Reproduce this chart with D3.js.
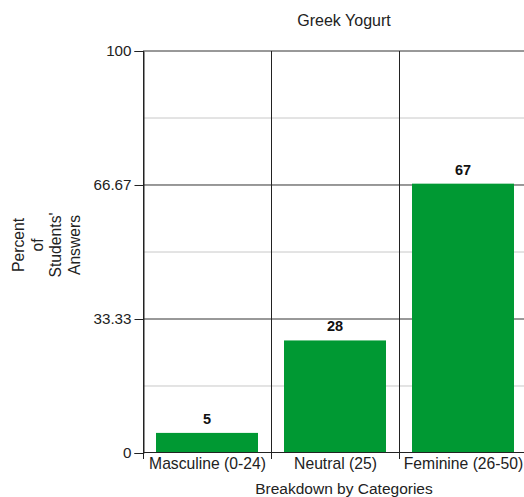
<!DOCTYPE html>
<html>
<head>
<meta charset="utf-8">
<script src="https://cdn.jsdelivr.net/npm/d3@7"></script>
<style>
  html, body { margin: 0; padding: 0; background: #fff; }
  svg { display: block; font-family: "Liberation Sans", Arial, sans-serif; }
</style>
</head>
<body>
<svg id="chart" width="524" height="497"></svg>
<script>
// Share of students' answers per category
const categories = ["Masculine (0-24)", "Neutral (25)", "Feminine (26-50)"];
const values = [5, 28, 67];
const majorTicks = [0, 33.33, 66.67, 100];
const majorTickLabels = ["0", "33.33", "66.67", "100"];
const minorTicks = [16.67, 50, 83.33];

const svg = d3.select("#chart");
const margin = { left: 143, top: 51, right: -3, bottom: 45 };
const W = 524, H = 497;
const x0 = margin.left, x1 = W - margin.right;
const y0 = H - margin.bottom, y1 = margin.top;

const x = d3.scaleBand().domain(categories).range([x0, x1]).paddingInner(0).paddingOuter(0);
const y = d3.scaleLinear().domain([0, 100]).range([y0 + 1, y1]);

// light minor gridlines
svg.append("g").selectAll("line").data(minorTicks).join("line")
  .attr("x1", x0).attr("x2", x1)
  .attr("y1", d => y(d)).attr("y2", d => y(d))
  .attr("stroke", "#c8c8c8").attr("stroke-width", 1);

// major gridlines
svg.append("g").selectAll("line").data(majorTicks.slice(1)).join("line")
  .attr("x1", x0).attr("x2", x1)
  .attr("y1", d => y(d)).attr("y2", d => y(d))
  .attr("stroke", "#333").attr("stroke-width", 1);

// vertical separators between categories
svg.append("g").selectAll("line").data(categories).join("line")
  .attr("x1", d => x(d) + 0.5).attr("x2", d => x(d) + 0.5)
  .attr("y1", y1).attr("y2", y0 + 7)
  .attr("stroke", "#222").attr("stroke-width", 1);

// bars
const pad = 13;
svg.append("g").selectAll("rect").data(values).join("rect")
  .attr("x", (d, i) => x(categories[i]) + pad)
  .attr("width", x.bandwidth() - 2 * pad)
  .attr("y", d => y(d))
  .attr("height", d => y(0) - y(d))
  .attr("fill", "#009933");

// value labels
svg.append("g").selectAll("text").data(values).join("text")
  .attr("x", (d, i) => x(categories[i]) + x.bandwidth() / 2)
  .attr("y", d => y(d) - 9)
  .attr("text-anchor", "middle")
  .attr("font-size", 14.5).attr("font-weight", "bold").attr("fill", "#111")
  .text(d => d);

// y axis
const yAxis = d3.axisLeft(y).tickValues(majorTicks)
  .tickFormat((d, i) => majorTickLabels[i]).tickSize(9).tickPadding(3);
const gy = svg.append("g").attr("transform", `translate(${x0 + 0.5},0)`).call(yAxis);
gy.select(".domain").attr("stroke", "#222");
gy.selectAll(".tick line").attr("stroke", "#222");
gy.selectAll(".tick text").attr("font-size", 15.2).attr("fill", "#222")
  .attr("font-family", "Liberation Sans, Arial, sans-serif");

// x axis baseline and labels
svg.append("line").attr("x1", x0).attr("x2", x1)
  .attr("y1", y0 + 0.5).attr("y2", y0 + 0.5).attr("stroke", "#222");
svg.append("g").selectAll("text").data(categories).join("text")
  .attr("x", d => x(d) + x.bandwidth() / 2 + 0.5)
  .attr("y", y0 + 17)
  .attr("text-anchor", "middle")
  .attr("font-size", 15.7).attr("fill", "#222")
  .text(d => d);

// titles
svg.append("text").attr("x", 344).attr("y", 26)
  .attr("text-anchor", "middle").attr("font-size", 16).attr("fill", "#222")
  .text("Greek Yogurt");
svg.append("text").attr("x", 344).attr("y", 494)
  .attr("text-anchor", "middle").attr("font-size", 15.5).attr("fill", "#222")
  .text("Breakdown by Categories");

const yTitle = ["Percent", "of", "Students'", "Answers"];
svg.append("g").attr("transform", "translate(24,245) rotate(-90)")
  .selectAll("text").data(yTitle).join("text")
  .attr("x", 0).attr("y", (d, i) => i * 18.7)
  .attr("text-anchor", "middle").attr("font-size", 15.7).attr("fill", "#222")
  .text(d => d);
</script>
</body>
</html>
